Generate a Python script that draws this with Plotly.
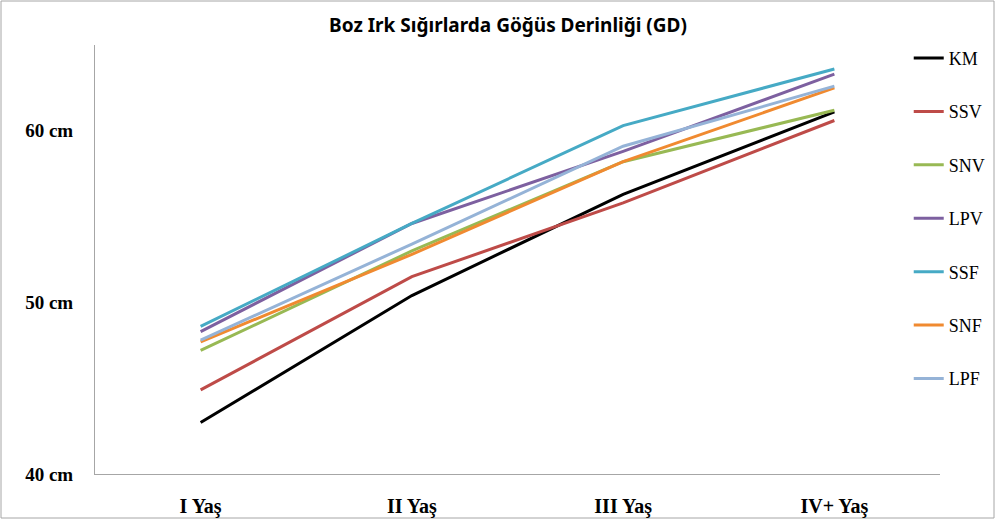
import plotly.graph_objects as go

categories = ["I Yaş", "II Yaş", "III Yaş", "IV+ Yaş"]
KM  = [43.0, 50.4, 56.3, 61.1]
SSV = [44.9, 51.5, 55.8, 60.6]
SNV = [47.2, 53.0, 58.2, 61.2]
LPV = [48.3, 54.6, 58.8, 63.3]
SSF = [48.6, 54.6, 60.3, 63.6]
SNF = [47.7, 52.8, 58.2, 62.5]
LPF = [47.8, 53.4, 59.1, 62.6]
y_tickvals = [40, 50, 60]
y_ticktext = ["40 cm", "50 cm", "60 cm"]

series = [
    ("KM", KM, "#000000"),
    ("SSV", SSV, "#BE4B48"),
    ("SNV", SNV, "#98B954"),
    ("LPV", LPV, "#7D60A0"),
    ("SSF", SSF, "#46AAC5"),
    ("SNF", SNF, "#F08A30"),
    ("LPF", LPF, "#95B3D7"),
]

fig = go.Figure()
for name, vals, col in series:
    fig.add_trace(go.Scatter(x=categories, y=vals, mode="lines", name=name,
                             legendgroup=name,
                             line=dict(color=col, width=3)))

fig.update_layout(
    width=1000, height=521,
    paper_bgcolor="white", plot_bgcolor="white",
    margin=dict(l=95, r=60, t=45, b=47, autoexpand=False),
    title=dict(text="<b>Boz Irk Sığırlarda Göğüs Derinliği (GD)</b>",
               x=0.508, xanchor="center", y=0.952, yanchor="middle",
               font=dict(family="Noto Sans", size=19, color="black")),
    showlegend=True,
    legend=dict(x=0.963, xanchor="left", y=1.012, yanchor="top",
                font=dict(family="Liberation Serif", size=18, color="black"),
                itemwidth=30, tracegroupgap=27, bgcolor="rgba(0,0,0,0)",
                maxheight=510),
    xaxis=dict(showline=True, linecolor="#A6A6A6", linewidth=1, showgrid=False,
               zeroline=False, ticks="", ticklabelstandoff=14, automargin=False,
               range=[-0.5, 3.5],
               tickfont=dict(family="Liberation Serif", size=20, color="black", weight="bold")),
    yaxis=dict(showline=True, linecolor="#A6A6A6", linewidth=1, showgrid=False,
               zeroline=False, range=[40, 65], tickvals=y_tickvals, ticktext=y_ticktext,
               ticks="", ticklabelstandoff=17, automargin=False,
               tickfont=dict(family="Liberation Serif", size=19, color="black", weight="bold")),
)

fig.add_shape(type="rect", xref="paper", yref="paper",
              x0=(1 - 95) / 845, x1=(994 - 95) / 845,
              y0=(521 - 47 - 518) / 429, y1=(521 - 47 - 1) / 429,
              line=dict(color="#A6A6A6", width=1), fillcolor="rgba(0,0,0,0)", layer="below")

fig.write_html("out.html", config={"displayModeBar": False},
               post_script="document.body.style.margin='0';")
